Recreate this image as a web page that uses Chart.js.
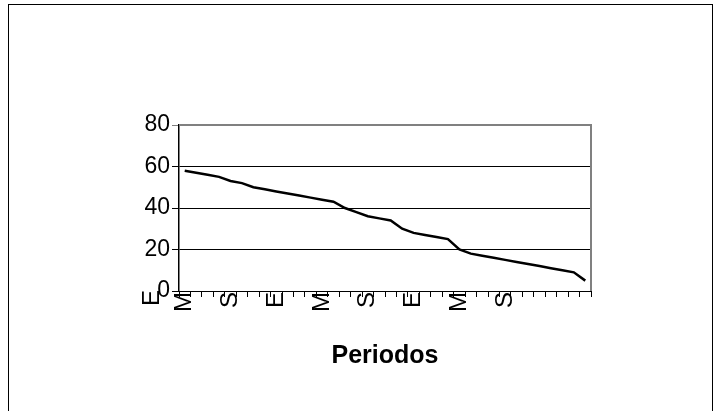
<!DOCTYPE html>
<html>
<head>
<meta charset="utf-8">
<script src="https://cdn.jsdelivr.net/npm/chart.js@4.4.0/dist/chart.umd.min.js"></script>
<style>
  html, body { margin: 0; padding: 0; background: #fff; overflow: hidden; }
  #frame {
    position: absolute; left: 8px; top: 4px; width: 703px; height: 420px;
    border-left: 1px solid #000; border-top: 1px solid #000; border-right: 1px solid #000;
  }
  #wrap { position: absolute; left: 0; top: 0; width: 714px; height: 411px; }
</style>
</head>
<body>
<div id="frame"></div>
<div id="wrap"><canvas id="periodos" width="714" height="411"></canvas></div>
<script>
Chart.defaults.color = '#000';
Chart.defaults.font.family = '"Liberation Sans", Arial, sans-serif';

// months, May to April (3 years)
const months = ['M','J','J','A','S','O','N','D','E','F','M','A',
                'M','J','J','A','S','O','N','D','E','F','M','A',
                'M','J','J','A','S','O','N','D','E','F','M','A'];
const values = [58, 57, 56, 55, 53, 52, 50, 49, 48, 47, 46, 45,
                44, 43, 40, 38, 36, 35, 34, 30, 28, 27, 26, 25,
                20, 18, 17, 16, 15, 14, 13, 12, 11, 10, 9, 5];
const yTicks = [0, 20, 40, 60, 80];
const labelEvery = 4;
const lastLabelIndex = 28;
const leadingLabel = 'E';   // stray label that sits left of the axis
const leadingOffset = 3;    // in categories, before the first one

const frameColor = '#808080';

const plotFrame = {
  id: 'plotFrame',
  afterDraw(chart) {
    const { ctx, chartArea: a, scales } = chart;
    ctx.save();
    ctx.strokeStyle = frameColor;
    ctx.lineWidth = 2;
    ctx.beginPath();
    ctx.moveTo(a.left, a.top);
    ctx.lineTo(a.right, a.top);
    ctx.lineTo(a.right, a.bottom);
    ctx.stroke();
    // leading label left of the axis
    const x = scales.x;
    const band = x.getPixelForValue(1) - x.getPixelForValue(0);
    const px = x.getPixelForValue(0) - leadingOffset * band + 2;
    ctx.translate(px, a.bottom - 1);
    ctx.rotate(-Math.PI / 2);
    ctx.fillStyle = '#000';
    ctx.font = '24px "Liberation Sans", Arial, sans-serif';
    ctx.textAlign = 'right';
    ctx.textBaseline = 'middle';
    ctx.fillText(leadingLabel, 0, 0);
    ctx.restore();
  }
};

new Chart(document.getElementById('periodos'), {
  type: 'line',
  data: {
    labels: months,
    datasets: [{
      data: values,
      borderColor: '#000',
      borderWidth: 2.5,
      pointRadius: 0,
      tension: 0,
      fill: false
    }]
  },
  options: {
    responsive: false,
    animation: false,
    layout: { padding: { left: 100, top: 125, right: 123, bottom: 40 } },
    plugins: { legend: { display: false }, tooltip: { enabled: false } },
    scales: {
      x: {
        offset: true,
        grid: { offset: true, drawOnChartArea: false, color: '#000', tickLength: 6 },
        border: { color: '#000', width: 1 },
        ticks: {
          autoSkip: false, minRotation: 90, maxRotation: 90, padding: -5,
          font: { size: 24 },
          callback: (v, i) => (i % labelEvery === 0 && i <= lastLabelIndex) ? months[i] : ''
        },
        title: { display: true, text: 'Periodos', font: { size: 25, weight: 'bold' }, padding: 0 },
        afterFit: s => { s.height = 80; }
      },
      y: {
        min: 0, max: 80,
        afterBuildTicks: s => { s.ticks = yTicks.map(v => ({ value: v })); },
        grid: {
          color: c => c.tick && c.tick.value === 80 ? frameColor : '#000',
          lineWidth: 1, tickLength: 7
        },
        border: { color: '#000', width: 1.5 },
        ticks: { font: { size: 23 }, padding: 2 },
        afterFit: s => { s.width = 79; }
      }
    }
  },
  plugins: [plotFrame]
});
</script>
</body>
</html>
